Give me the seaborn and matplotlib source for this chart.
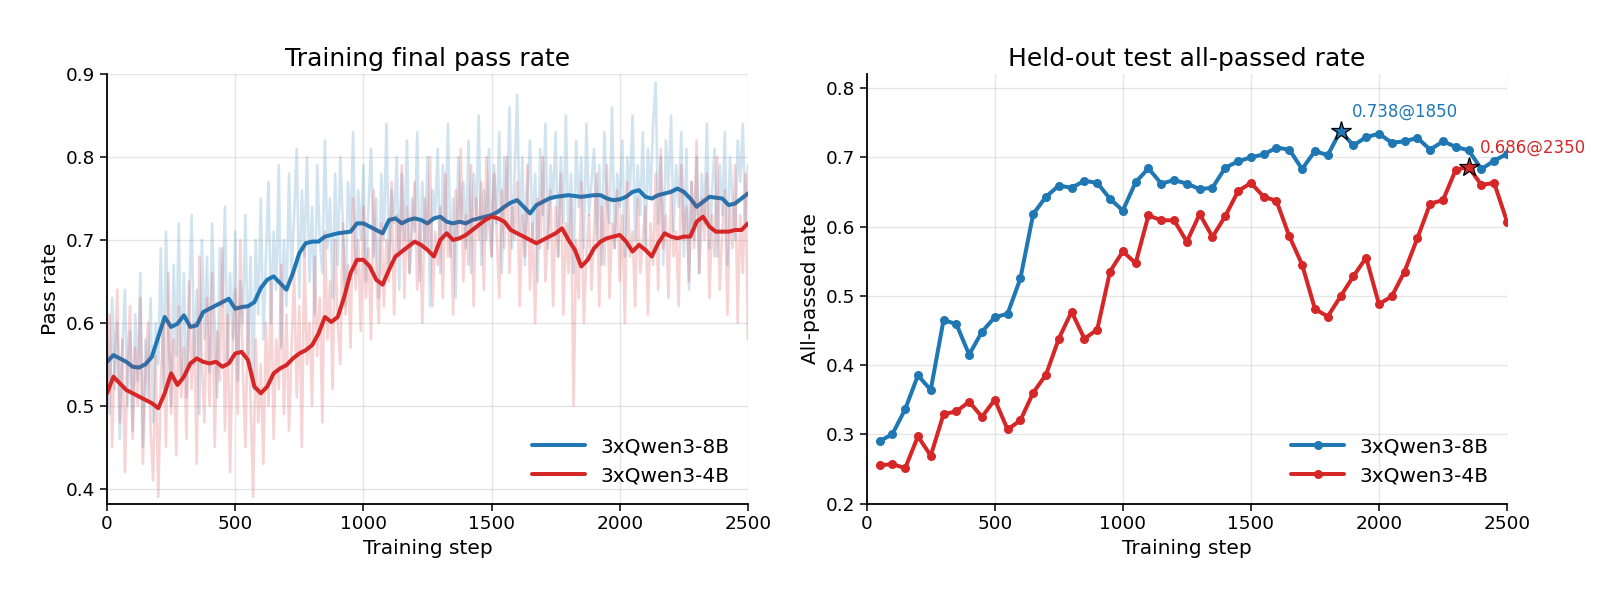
import numpy as np
import pandas as pd
import matplotlib
matplotlib.use("Agg")
import matplotlib.pyplot as plt
import seaborn as sns

BLUE = "#1f77b4"
RED = "#d62728"
LABEL_8B = "3xQwen3-8B"
LABEL_4B = "3xQwen3-4B"

# ---- left panel: training final pass rate ----
# smoothed curves, every 25 steps from 0 to 2500
smooth_steps = list(range(0, 2501, 25))
smooth_8b = [
    0.553, 0.561, 0.557, 0.553, 0.547, 0.546, 0.550, 0.559, 0.583, 0.607,
    0.595, 0.599, 0.609, 0.595, 0.597, 0.613, 0.617, 0.621, 0.625, 0.629,
    0.617, 0.619, 0.620, 0.625, 0.642, 0.652, 0.656, 0.648, 0.640, 0.660,
    0.684, 0.696, 0.698, 0.698, 0.704, 0.706, 0.708, 0.709, 0.710, 0.720,
    0.720, 0.716, 0.712, 0.708, 0.724, 0.726, 0.720, 0.724, 0.726, 0.724,
    0.720, 0.726, 0.728, 0.722, 0.720, 0.722, 0.720, 0.724, 0.726, 0.728,
    0.730, 0.734, 0.740, 0.745, 0.748, 0.740, 0.732, 0.742, 0.746, 0.750,
    0.752, 0.753, 0.754, 0.753, 0.752, 0.753, 0.754, 0.754, 0.750, 0.748,
    0.749, 0.752, 0.758, 0.760, 0.752, 0.750, 0.754, 0.756, 0.758, 0.762,
    0.758, 0.750, 0.740, 0.746, 0.752, 0.751, 0.750, 0.742, 0.744, 0.750,
    0.756,
]
smooth_4b = [
    0.515, 0.535, 0.527, 0.519, 0.515, 0.511, 0.507, 0.503, 0.497, 0.515,
    0.539, 0.525, 0.535, 0.551, 0.557, 0.553, 0.551, 0.553, 0.547, 0.551,
    0.563, 0.565, 0.555, 0.523, 0.515, 0.523, 0.539, 0.545, 0.549, 0.557,
    0.563, 0.567, 0.573, 0.587, 0.607, 0.601, 0.607, 0.631, 0.660, 0.676,
    0.676, 0.668, 0.652, 0.646, 0.664, 0.680, 0.686, 0.692, 0.698, 0.694,
    0.688, 0.680, 0.700, 0.708, 0.700, 0.702, 0.706, 0.712, 0.718, 0.724,
    0.728, 0.726, 0.722, 0.712, 0.708, 0.704, 0.700, 0.696, 0.700, 0.704,
    0.708, 0.714, 0.700, 0.688, 0.668, 0.676, 0.690, 0.698, 0.702, 0.704,
    0.706, 0.698, 0.686, 0.694, 0.688, 0.680, 0.696, 0.708, 0.704, 0.702,
    0.704, 0.704, 0.722, 0.728, 0.716, 0.710, 0.710, 0.710, 0.712, 0.712,
    0.720,
]

# raw (unsmoothed) pass rate, every 10 steps from 0 to 2500
raw_steps = list(range(0, 2501, 10))
raw_8b = [
    0.58, 0.49, 0.63, 0.52, 0.60, 0.46, 0.57, 0.64, 0.50, 0.59,
    0.47, 0.61, 0.53, 0.66, 0.45, 0.58, 0.51, 0.63, 0.48, 0.60,
    0.55, 0.69, 0.52, 0.71, 0.58, 0.50, 0.67, 0.56, 0.72, 0.53,
    0.66, 0.51, 0.62, 0.73, 0.55, 0.64, 0.49, 0.70, 0.58, 0.68,
    0.54, 0.72, 0.60, 0.51, 0.69, 0.62, 0.74, 0.55, 0.66, 0.58,
    0.71, 0.53, 0.65, 0.60, 0.73, 0.56, 0.68, 0.52, 0.70, 0.61,
    0.75, 0.58, 0.68, 0.77, 0.60, 0.71, 0.64, 0.79, 0.57, 0.70,
    0.62, 0.78, 0.66, 0.73, 0.81, 0.63, 0.76, 0.68, 0.80, 0.65,
    0.74, 0.61, 0.79, 0.70, 0.66, 0.82, 0.69, 0.75, 0.63, 0.78,
    0.67, 0.80, 0.72, 0.62, 0.77, 0.71, 0.83, 0.66, 0.76, 0.70,
    0.79, 0.65, 0.74, 0.81, 0.68, 0.75, 0.63, 0.78, 0.70, 0.84,
    0.67, 0.76, 0.72, 0.80, 0.64, 0.78, 0.70, 0.82, 0.66, 0.75,
    0.71, 0.83, 0.65, 0.77, 0.69, 0.80, 0.62, 0.76, 0.73, 0.81,
    0.66, 0.79, 0.71, 0.84, 0.68, 0.75, 0.63, 0.80, 0.72, 0.77,
    0.69, 0.82, 0.66, 0.78, 0.73, 0.85, 0.67, 0.76, 0.70, 0.81,
    0.68, 0.79, 0.72, 0.83, 0.66, 0.80, 0.74, 0.86, 0.69, 0.78,
    0.875, 0.71, 0.80, 0.67, 0.76, 0.82, 0.70, 0.78, 0.65, 0.81,
    0.73, 0.84, 0.69, 0.79, 0.75, 0.83, 0.68, 0.80, 0.72, 0.85,
    0.70, 0.78, 0.66, 0.82, 0.74, 0.80, 0.69, 0.84, 0.73, 0.77,
    0.81, 0.70, 0.79, 0.67, 0.83, 0.75, 0.72, 0.86, 0.69, 0.78,
    0.74, 0.82, 0.68, 0.80, 0.76, 0.85, 0.70, 0.79, 0.73, 0.83,
    0.69, 0.81, 0.75, 0.84, 0.89, 0.72, 0.80, 0.67, 0.82, 0.76,
    0.85, 0.71, 0.79, 0.74, 0.83, 0.68, 0.81, 0.64, 0.77, 0.70,
    0.80, 0.66, 0.78, 0.72, 0.84, 0.69, 0.76, 0.81, 0.68, 0.79,
    0.73, 0.83, 0.67, 0.80, 0.75, 0.70, 0.82, 0.77, 0.84, 0.72,
    0.79,
]
raw_4b = [
    0.50, 0.61, 0.45, 0.56, 0.64, 0.48, 0.58, 0.42, 0.55, 0.62,
    0.46, 0.57, 0.50, 0.63, 0.43, 0.54, 0.60, 0.47, 0.41, 0.56,
    0.39, 0.53, 0.60, 0.45, 0.66, 0.49, 0.58, 0.44, 0.62, 0.51,
    0.57, 0.46, 0.65, 0.52, 0.60, 0.43, 0.68, 0.55, 0.48, 0.63,
    0.50, 0.66, 0.45, 0.59, 0.53, 0.69, 0.47, 0.61, 0.42, 0.57,
    0.64, 0.49, 0.70, 0.54, 0.45, 0.62, 0.51, 0.39, 0.58, 0.48,
    0.55, 0.43, 0.60, 0.50, 0.65, 0.46, 0.58, 0.52, 0.67, 0.49,
    0.61, 0.47, 0.57, 0.66, 0.51, 0.62, 0.45, 0.69, 0.55, 0.60,
    0.50, 0.68, 0.56, 0.63, 0.48, 0.71, 0.58, 0.65, 0.52, 0.70,
    0.60, 0.55, 0.72, 0.61, 0.67, 0.57, 0.75, 0.64, 0.70, 0.59,
    0.74, 0.63, 0.69, 0.58, 0.76, 0.66, 0.60, 0.72, 0.62, 0.70,
    0.65, 0.77, 0.61, 0.73, 0.68, 0.79, 0.63, 0.74, 0.66, 0.71,
    0.77, 0.64, 0.72, 0.60, 0.75, 0.69, 0.80, 0.62, 0.71, 0.67,
    0.74, 0.63, 0.78, 0.68, 0.72, 0.61, 0.76, 0.70, 0.81, 0.65,
    0.73, 0.67, 0.79, 0.62, 0.75, 0.70, 0.77, 0.64, 0.80, 0.72,
    0.68, 0.78, 0.71, 0.63, 0.76, 0.69, 0.80, 0.66, 0.74, 0.70,
    0.77, 0.62, 0.73, 0.68, 0.79, 0.64, 0.72, 0.60, 0.75, 0.69,
    0.80, 0.65, 0.71, 0.76, 0.62, 0.74, 0.68, 0.78, 0.61, 0.72,
    0.66, 0.75, 0.50, 0.70, 0.63, 0.77, 0.60, 0.68, 0.73, 0.64,
    0.71, 0.78, 0.62, 0.74, 0.67, 0.79, 0.63, 0.72, 0.69, 0.76,
    0.65, 0.73, 0.60, 0.77, 0.68, 0.71, 0.62, 0.75, 0.66, 0.70,
    0.74, 0.61, 0.72, 0.67, 0.78, 0.64, 0.81, 0.69, 0.73, 0.63,
    0.76, 0.68, 0.71, 0.62, 0.79, 0.70, 0.74, 0.65, 0.77, 0.69,
    0.82, 0.66, 0.75, 0.70, 0.78, 0.63, 0.73, 0.68, 0.80, 0.64,
    0.71, 0.76, 0.61, 0.74, 0.69, 0.79, 0.60, 0.73, 0.66, 0.78,
    0.58,
]

# ---- right panel: held-out test all-passed rate, every 50 steps ----
eval_steps = list(range(50, 2501, 50))
eval_8b = [
    0.290, 0.300, 0.336, 0.385, 0.364, 0.465, 0.459, 0.415, 0.448, 0.469,
    0.474, 0.525, 0.618, 0.643, 0.659, 0.656, 0.666, 0.663, 0.640, 0.623,
    0.664, 0.684, 0.662, 0.667, 0.662, 0.654, 0.656, 0.685, 0.694, 0.700,
    0.704, 0.714, 0.711, 0.683, 0.709, 0.703, 0.738, 0.717, 0.729, 0.734,
    0.721, 0.723, 0.728, 0.711, 0.723, 0.715, 0.710, 0.683, 0.695, 0.705,
]
eval_4b = [
    0.255, 0.257, 0.251, 0.297, 0.269, 0.329, 0.333, 0.347, 0.325, 0.350,
    0.307, 0.320, 0.360, 0.386, 0.438, 0.477, 0.438, 0.451, 0.535, 0.564,
    0.547, 0.616, 0.609, 0.609, 0.578, 0.618, 0.585, 0.615, 0.651, 0.663,
    0.643, 0.637, 0.586, 0.545, 0.481, 0.470, 0.499, 0.528, 0.555, 0.488,
    0.499, 0.535, 0.583, 0.633, 0.638, 0.682, 0.686, 0.660, 0.663, 0.607,
]

sns.set_theme(style="ticks")
plt.rcParams["font.family"] = ["DejaVu Sans"]
plt.rcParams.update({
    "text.color": "black",
    "axes.labelcolor": "black",
    "xtick.color": "black",
    "ytick.color": "black",
    "axes.titlecolor": "black",
})

fig = plt.figure(figsize=(16.14, 6.03), dpi=100)
ax1 = fig.add_axes([0.0663, 0.165, 0.3971, 0.712])
ax2 = fig.add_axes([0.537, 0.165, 0.3967, 0.712])

# left: raw traces faint, smoothed on top
sns.lineplot(x=raw_steps, y=raw_8b, ax=ax1, color=BLUE, lw=1.9, alpha=0.2)
sns.lineplot(x=smooth_steps, y=smooth_8b, ax=ax1, color=BLUE, lw=2.9, label=LABEL_8B)
sns.lineplot(x=raw_steps, y=raw_4b, ax=ax1, color=RED, lw=1.9, alpha=0.2)
sns.lineplot(x=smooth_steps, y=smooth_4b, ax=ax1, color=RED, lw=2.9, label=LABEL_4B)

ax1.set_xlim(0, 2500)
ax1.set_ylim(0.382, 0.9)
ax1.set_yticks([0.4, 0.5, 0.6, 0.7, 0.8, 0.9])
ax1.set_title("Training final pass rate", fontsize=18)
ax1.set_xlabel("Training step", fontsize=14.5)
ax1.set_ylabel("Pass rate", fontsize=14.5)

# right: eval curves with markers and best-point stars
for steps_, vals, col, lab in [
    (eval_steps, eval_8b, BLUE, LABEL_8B),
    (eval_steps, eval_4b, RED, LABEL_4B),
]:
    sns.lineplot(x=steps_, y=vals, ax=ax2, color=col, lw=2.9,
                 marker="o", markersize=6.5, markeredgewidth=0, label=lab)
for steps_, vals, col in [(eval_steps, eval_8b, BLUE), (eval_steps, eval_4b, RED)]:
    i = int(np.argmax(vals))
    ax2.plot(steps_[i], vals[i], marker="*", markersize=15, color=col,
             markeredgecolor="black", markeredgewidth=0.9, zorder=5)
    ax2.annotate(f"{vals[i]:.3f}@{steps_[i]}", xy=(steps_[i], vals[i]),
                 xytext=(8, 10), textcoords="offset points",
                 color=col, fontsize=12, zorder=6)

ax2.set_xlim(0, 2500)
ax2.set_ylim(0.2, 0.82)
ax2.set_yticks([0.2, 0.3, 0.4, 0.5, 0.6, 0.7, 0.8])
ax2.set_title("Held-out test all-passed rate", fontsize=18)
ax2.set_xlabel("Training step", fontsize=14.5)
ax2.set_ylabel("All-passed rate", fontsize=14.5)

for ax in (ax1, ax2):
    ax.set_xticks([0, 500, 1000, 1500, 2000, 2500])
    ax.grid(True, color="#cccccc", alpha=0.5, lw=1)
    ax.tick_params(labelsize=13.3, length=5, width=1.1, color="black")
    for s in ("left", "bottom"):
        ax.spines[s].set_color("black")
        ax.spines[s].set_linewidth(1.3)
    sns.despine(ax=ax)
    ax.legend(loc="lower right", frameon=False, fontsize=14.5, handlelength=2.6)

fig.savefig("out.png", dpi=100)
